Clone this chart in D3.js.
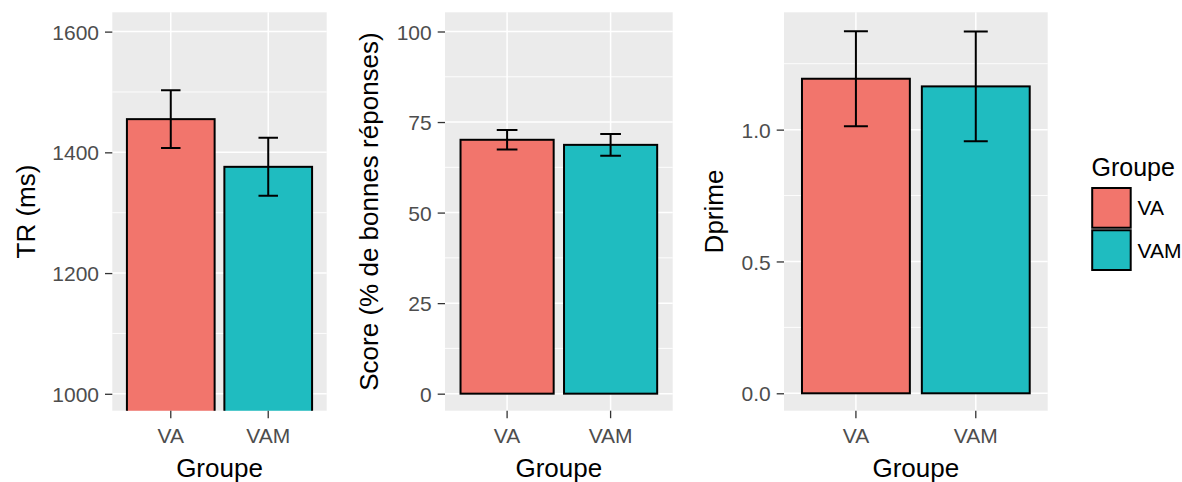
<!DOCTYPE html>
<html>
<head>
<meta charset="utf-8">
<script src="https://cdn.jsdelivr.net/npm/d3@7"></script>
<style>
  html, body { margin: 0; padding: 0; background: #fff; }
  svg { display: block; font-family: "Liberation Sans", Arial, sans-serif; }
</style>
</head>
<body>
<svg id="chart" width="1182" height="482"></svg>
<script>
// ---- data ----
const groups = ["VA", "VAM"];
const fills = ["#F2756C", "#1FBCC0"];

const trMean = [1455, 1376];
const trSE = [48, 48];
const trTicks = [1000, 1200, 1400, 1600];
const trMinor = [1100, 1300, 1500];

const scoreMean = [70.1, 68.7];
const scoreSE = [2.7, 3.0];
const scoreTicks = [0, 25, 50, 75, 100];
const scoreMinor = [12.5, 37.5, 62.5, 87.5];

const dprimeMean = [1.193, 1.164];
const dprimeSE = [0.180, 0.208];
const dprimeTicks = [0, 0.5, 1.0];
const dprimeMinor = [0.25, 0.75, 1.25];

// ---- layout ----
const panels = [
  { mean: trMean, se: trSE, ticks: trTicks, minor: trMinor, fmt: d3.format("d"),
    domain: [972, 1632], x0: 112.3, x1: 326.7, title: "TR (ms)", titleX: 35 },
  { mean: scoreMean, se: scoreSE, ticks: scoreTicks, minor: scoreMinor, fmt: d3.format("d"),
    domain: [-4.7, 105.3], x0: 445, x1: 672.7, title: "Score (% de bonnes réponses)", titleX: 378 },
  { mean: dprimeMean, se: dprimeSE, ticks: dprimeTicks, minor: dprimeMinor, fmt: d3.format(".1f"),
    domain: [-0.066, 1.445], x0: 784, x1: 1047.7, title: "Dprime", titleX: 723 }
];
const yTop = 12.3, yBot = 410.7;

const svg = d3.select("#chart");
const defs = svg.append("defs");

panels.forEach((p, i) => {
  const x = d3.scaleBand().domain(groups).range([p.x0, p.x1])
    .paddingInner(0.1).paddingOuter(0.15);
  const y = d3.scaleLinear().domain(p.domain).range([yBot, yTop]);
  const g = svg.append("g");

  defs.append("clipPath").attr("id", "clip" + i)
    .append("rect").attr("x", p.x0).attr("y", yTop)
    .attr("width", p.x1 - p.x0).attr("height", yBot - yTop);

  // panel background
  g.append("rect").attr("x", p.x0).attr("y", yTop)
    .attr("width", p.x1 - p.x0).attr("height", yBot - yTop)
    .attr("fill", "#EBEBEB");

  // minor grid
  g.selectAll(".minor").data(p.minor).join("line")
    .attr("x1", p.x0).attr("x2", p.x1)
    .attr("y1", d => y(d)).attr("y2", d => y(d))
    .attr("stroke", "#fff").attr("stroke-width", 0.9);
  // major grid
  g.selectAll(".major").data(p.ticks).join("line")
    .attr("x1", p.x0).attr("x2", p.x1)
    .attr("y1", d => y(d)).attr("y2", d => y(d))
    .attr("stroke", "#fff").attr("stroke-width", 1.5);
  g.selectAll(".vmajor").data(groups).join("line")
    .attr("x1", d => x(d) + x.bandwidth() / 2).attr("x2", d => x(d) + x.bandwidth() / 2)
    .attr("y1", yTop).attr("y2", yBot)
    .attr("stroke", "#fff").attr("stroke-width", 1.5);

  const clipped = g.append("g").attr("clip-path", `url(#clip${i})`);
  // bars
  clipped.selectAll(".bar").data(groups).join("rect")
    .attr("x", d => x(d))
    .attr("width", x.bandwidth())
    .attr("y", (d, j) => y(p.mean[j]))
    .attr("height", (d, j) => y(0) - y(p.mean[j]))
    .attr("fill", (d, j) => fills[j])
    .attr("stroke", "#000").attr("stroke-width", 2);

  // error bars
  const ew = x.bandwidth() * 0.2 / 0.9;
  const eb = clipped.selectAll(".eb").data(groups).join("g");
  eb.append("line")
    .attr("x1", d => x(d) + x.bandwidth() / 2).attr("x2", d => x(d) + x.bandwidth() / 2)
    .attr("y1", (d, j) => y(p.mean[j] + p.se[j])).attr("y2", (d, j) => y(p.mean[j] - p.se[j]));
  eb.append("line")
    .attr("x1", d => x(d) + x.bandwidth() / 2 - ew / 2).attr("x2", d => x(d) + x.bandwidth() / 2 + ew / 2)
    .attr("y1", (d, j) => y(p.mean[j] + p.se[j])).attr("y2", (d, j) => y(p.mean[j] + p.se[j]));
  eb.append("line")
    .attr("x1", d => x(d) + x.bandwidth() / 2 - ew / 2).attr("x2", d => x(d) + x.bandwidth() / 2 + ew / 2)
    .attr("y1", (d, j) => y(p.mean[j] - p.se[j])).attr("y2", (d, j) => y(p.mean[j] - p.se[j]));
  eb.selectAll("line").attr("stroke", "#000").attr("stroke-width", 2);

  // y axis
  const ya = g.append("g").attr("transform", `translate(${p.x0},0)`)
    .call(d3.axisLeft(y).tickValues(p.ticks).tickFormat(p.fmt).tickSize(7.3).tickPadding(6));
  ya.select(".domain").remove();
  ya.selectAll("line").attr("stroke", "#333").attr("stroke-width", 1.3);
  ya.selectAll("text").attr("fill", "#4D4D4D").style("font-size", "21px")
    .attr("dy", "0.36em");

  // x axis
  const xa = g.append("g").attr("transform", `translate(0,${yBot})`)
    .call(d3.axisBottom(x).tickSize(7.5).tickPadding(10));
  xa.select(".domain").remove();
  xa.selectAll("line").attr("stroke", "#333").attr("stroke-width", 1.3);
  xa.selectAll("text").attr("fill", "#4D4D4D").style("font-size", "21px");

  // titles
  g.append("text")
    .attr("transform", `translate(${p.titleX},${(yTop + yBot) / 2}) rotate(-90)`)
    .attr("text-anchor", "middle").style("font-size", "26px").attr("fill", "#000")
    .text(p.title);
  g.append("text")
    .attr("x", (p.x0 + p.x1) / 2).attr("y", 477)
    .attr("text-anchor", "middle").style("font-size", "26px").attr("fill", "#000")
    .text("Groupe");
});

// legend
const lg = svg.append("g");
lg.append("text").attr("x", 1091.5).attr("y", 176)
  .style("font-size", "25px").attr("fill", "#000").text("Groupe");
const keyY = d3.scaleBand().domain(groups).range([188, 270]).paddingInner(0.06);
lg.selectAll(".key").data(groups).join("rect")
  .attr("x", 1092.2).attr("width", 38.5)
  .attr("y", d => keyY(d)).attr("height", keyY.bandwidth())
  .attr("fill", (d, j) => fills[j]).attr("stroke", "#000").attr("stroke-width", 2);
lg.selectAll(".lab").data(groups).join("text")
  .attr("x", 1137.5).attr("y", d => keyY(d) + keyY.bandwidth() / 2)
  .attr("dy", "0.36em")
  .style("font-size", "21px").attr("fill", "#000").text(d => d);
</script>
</body>
</html>
